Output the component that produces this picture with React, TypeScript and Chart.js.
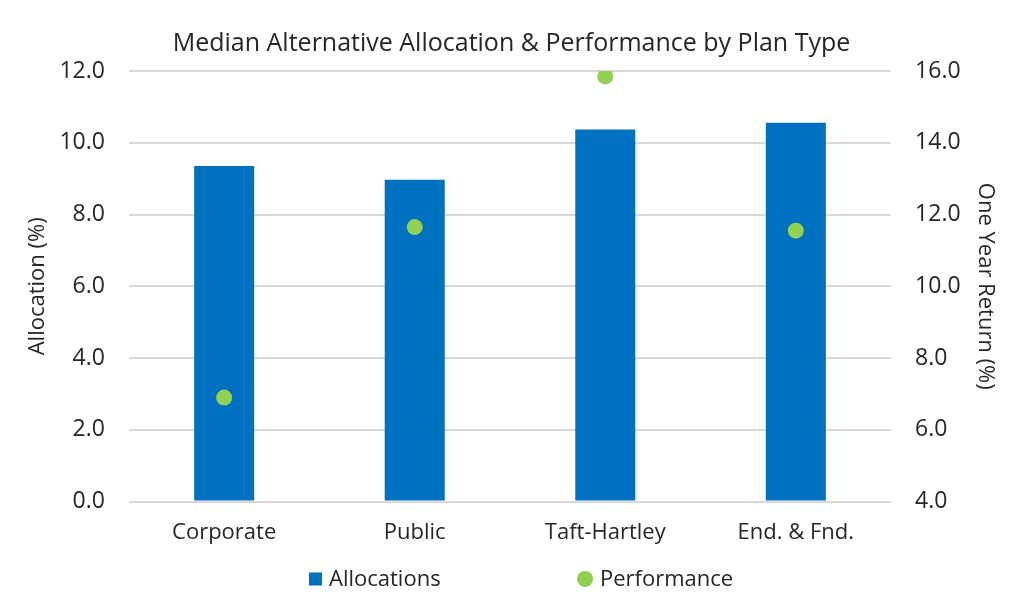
import { useEffect, useRef } from "react";
import Chart from "chart.js/auto";

const planTypes = ["Corporate", "Public", "Taft-Hartley", "End. & Fnd."];
const allocations = [9.35, 8.97, 10.37, 10.56];
const performance = [6.9, 11.65, 15.85, 11.55];

const FONT = "'Open Sans', 'Noto Sans', sans-serif";
const TEXT = "#262626";
const BLUE = "#0070C0";
const GREEN = "#92D050";

// legend drawn on the canvas so items can sit far apart like the original
const wideLegend = {
  id: "wideLegend",
  afterDraw(chart: Chart) {
    const { ctx } = chart;
    const y = 579;
    const starts = [309, 577];
    ctx.save();
    ctx.font = `22px ${FONT}`;
    ctx.textBaseline = "middle";
    chart.data.datasets.forEach((ds, i) => {
      const x = starts[i];
      ctx.fillStyle = ds.backgroundColor as string;
      if (i === 0) {
        ctx.fillRect(x, y - 6.5, 13, 13);
      } else {
        ctx.beginPath();
        ctx.arc(x + 8, y, 8, 0, Math.PI * 2);
        ctx.fill();
      }
      ctx.fillStyle = TEXT;
      ctx.fillText(ds.label ?? "", x + (i === 0 ? 20 : 23), y + 1);
    });
    ctx.restore();
  },
};

const tickFmt = (v: string | number) => Number(v).toFixed(1);

export default function App() {
  const canvasRef = useRef<HTMLCanvasElement>(null);

  useEffect(() => {
    document.body.style.margin = "0";
    const ctx = canvasRef.current?.getContext("2d");
    if (!ctx) return;

    const chart = new Chart(ctx, {
      type: "bar",
      data: {
        labels: planTypes,
        datasets: [
          {
            type: "bar",
            label: "Allocations",
            data: allocations,
            backgroundColor: BLUE,
            yAxisID: "y",
            order: 1,
            barPercentage: 0.315,
            categoryPercentage: 1,
          },
          {
            type: "line",
            label: "Performance",
            data: performance,
            backgroundColor: GREEN,
            borderColor: GREEN,
            showLine: false,
            pointRadius: 8,
            pointHoverRadius: 8,
            pointBorderWidth: 0,
            yAxisID: "y1",
            order: 0,
          },
        ],
      },
      options: {
        animation: false,
        responsive: false,
        layout: { padding: { top: 29, left: 23, right: 24, bottom: 52 } },
        plugins: {
          legend: { display: false },
          tooltip: { enabled: false },
          title: {
            display: true,
            text: "Median Alternative Allocation & Performance by Plan Type",
            color: TEXT,
            font: { family: FONT, size: 25, weight: "normal" },
            padding: { top: 0, bottom: 12 },
          },
        },
        scales: {
          x: {
            grid: { display: false, drawTicks: false, tickLength: 0 },
            border: { display: false },
            ticks: { color: TEXT, font: { family: FONT, size: 22 }, padding: 18 },
          },
          y: {
            position: "left",
            min: 0,
            max: 12,
            grid: { color: "#d9d9d9", lineWidth: 2, tickLength: 18, tickColor: "transparent" },
            border: { display: false },
            ticks: {
              stepSize: 2,
              color: TEXT,
              padding: 6,
              font: { family: FONT, size: 23 },
              callback: tickFmt,
            },
            title: {
              display: true,
              text: "Allocation (%)",
              color: TEXT,
              font: { family: FONT, size: 22 },
              padding: { top: 2, bottom: 2 },
            },
          },
          y1: {
            position: "right",
            min: 4,
            max: 16,
            grid: { drawOnChartArea: false, tickLength: 18, tickColor: "transparent" },
            border: { display: false },
            ticks: {
              stepSize: 2,
              color: TEXT,
              padding: 6,
              font: { family: FONT, size: 23 },
              callback: tickFmt,
            },
            title: {
              display: true,
              text: "One Year Return (%)",
              color: TEXT,
              font: { family: FONT, size: 22 },
              padding: { top: 2, bottom: 5 },
            },
          },
        },
      },
      plugins: [wideLegend],
    });

    return () => chart.destroy();
  }, []);

  return (
    <div style={{ width: 1024, height: 616, background: "#fff" }}>
      <canvas ref={canvasRef} width={1024} height={616} role="img" aria-label="Median Alternative Allocation & Performance by Plan Type" />
    </div>
  );
}
